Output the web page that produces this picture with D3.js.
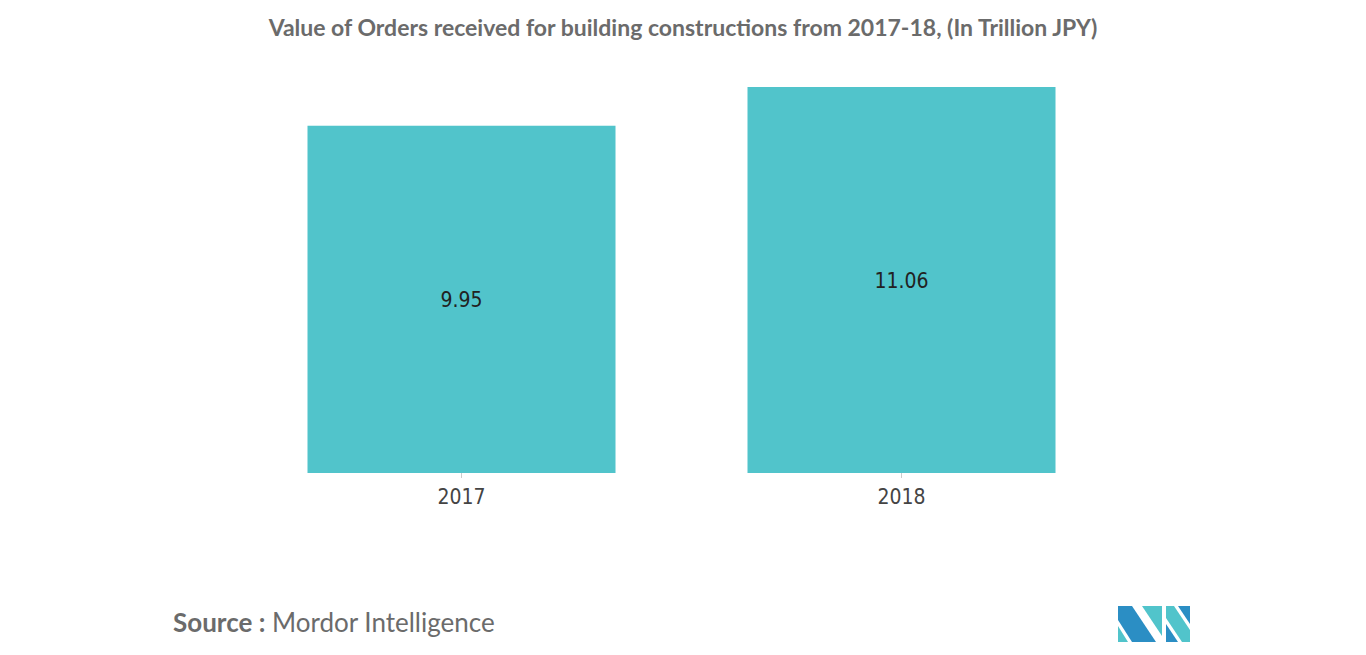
<!DOCTYPE html><html><head><script src="https://cdn.jsdelivr.net/npm/d3@7"></script>
<style>body{margin:0;background:#fff}</style></head><body><svg id="c" width="1366" height="655"></svg>
<script>
const categories=["2017","2018"];
const values=[9.95,11.06];
const svg=d3.select("#c");
const x=d3.scaleBand().domain(categories).range([241.5,1121.5]).paddingInner(0.3).paddingOuter(0.15);
const y=d3.scaleLinear().domain([0,11.06]).range([473,87]);
svg.append("text").attr("x",683).attr("y",36).attr("text-anchor","middle").attr("font-family","Lato").attr("font-weight","bold").attr("font-size",23).attr("fill","#6b6b6b").text("Value of Orders received for building constructions from 2017-18, (In Trillion JPY)");
svg.selectAll("rect.b").data(values).join("rect").attr("x",(d,i)=>x(categories[i])).attr("width",x.bandwidth()).attr("y",d=>y(d)).attr("height",d=>y(0)-y(d)).attr("fill","#51c4cb");
svg.selectAll("text.v").data(values).join("text").attr("x",(d,i)=>x(categories[i])+x.bandwidth()/2).attr("y",d=>(y(d)+y(0))/2+8).attr("text-anchor","middle").attr("font-family","DejaVu Sans Condensed, DejaVu Sans").attr("font-stretch","condensed").attr("font-size",21).attr("fill","#222").text(d=>d.toFixed(2));
const ax=svg.append("g").attr("transform","translate(0,473)").call(d3.axisBottom(x).tickSize(5).tickSizeOuter(0));
ax.select(".domain").remove();
ax.selectAll("line").attr("stroke","#ccc");
ax.selectAll("text").attr("font-family","DejaVu Sans Condensed, DejaVu Sans").attr("font-stretch","condensed").attr("font-size",21).attr("fill","#444").attr("dy","1.1em");
svg.append("text").attr("x",173).attr("y",632).attr("font-family","Lato").attr("font-size",26).attr("fill","#6b6b6b").html('<tspan font-weight="bold">Source :</tspan> Mordor Intelligence');
const g=svg.append("g").attr("transform","translate(1118,606)");
g.append("polygon").attr("points","0,0 14,0 38,36 14,36 0,14").attr("fill","#2b8ec4");
g.append("polygon").attr("points","0,20 10,36 0,36").attr("fill","#51c4cb");
g.append("polygon").attr("points","24,0 44,0 44,30").attr("fill","#51c4cb");
g.append("polygon").attr("points","48,0 56,0 72,24 72,36 64,36 48,12").attr("fill","#51c4cb");
g.append("polygon").attr("points","48,18 60,36 48,36").attr("fill","#2b8ec4");
g.append("polygon").attr("points","60,0 72,0 72,18").attr("fill","#2b8ec4");
</script></body></html>
